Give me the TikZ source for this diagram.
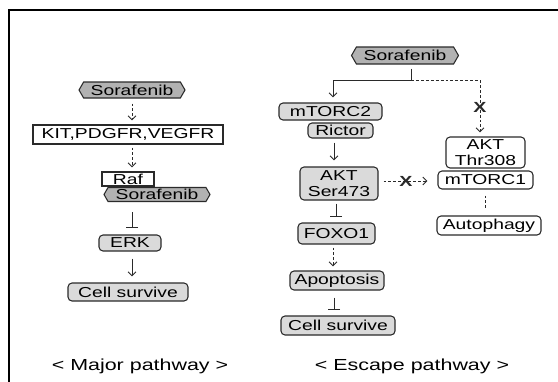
\documentclass[tikz,border=0pt]{standalone}
\usepackage{fontspec}
\setmainfont{Liberation Sans}[FakeStretch=1.34]
\usetikzlibrary{arrows.meta,shapes.symbols}
\newdimen\px \px=0.75pt
\definecolor{drug}{HTML}{B2B2B2}
\definecolor{prot}{HTML}{DADADA}
\definecolor{edge}{HTML}{2A2A2A}
\tikzset{
 base/.style={draw=edge, line width=0.8pt, inner sep=0pt, font=\fontsize{10.8pt}{11.8pt}\selectfont, align=center, text=black},
 drugbox/.style={base, signal, signal to=west and east, signal pointer angle=120, fill=drug},
 plainbox/.style={base, fill=white, rectangle},
 protbox/.style={base, fill=prot, rectangle, rounded corners=3pt},
 whitebox/.style={base, fill=white, rectangle, rounded corners=3pt},
 sz/.style 2 args={minimum width=#1\px, minimum height=#2\px},
 conn/.style={draw=edge, line width=0.7pt},
 act/.style={conn, -{Straight Barb[length=3pt,width=6pt]}},
 dsh/.style={dash pattern=on 2.2pt off 1.5pt},
 inh/.style={conn, -{Bar[width=9pt]}},
 xmark/.style={font=\bfseries\fontsize{11pt}{11pt}\selectfont, inner sep=0pt, text=edge},
 lab/.style={font=\fontsize{12pt}{14pt}\selectfont, inner sep=0pt}
}
\begin{document}
\begin{tikzpicture}[x=0.75pt, y=-0.75pt]
\useasboundingbox (0,0) rectangle (558,382);
\draw[line width=1.5pt] (9,382) -- (9,10) -- (558,10);

% Major pathway
\node[drugbox, sz={106}{16}] (s1) at (132,90) {Sorafenib};
\node[plainbox, sz={190}{19}] (kit) at (128,134.5) {KIT,PDGFR,VEGFR};
\node[plainbox, sz={52}{14}] (raf) at (128,179) {Raf};
\node[drugbox, sz={106}{14}] (s2) at (157,194.5) {Sorafenib};
\node[protbox, sz={62}{16}] (erk) at (130,243) {ERK};
\node[protbox, sz={120}{18}] (c1) at (128,292) {Cell survive};
\node[lab] (major) at (140,366) {< Major pathway >};

\draw[act, dsh, shorten <=5\px, shorten >=4\px] (s1.south) -- (s1.south |- kit.north);
\draw[act, dsh, shorten <=3\px, shorten >=4\px] (kit.south -| s1.south) -- (s1.south |- raf.north);
\draw[inh, shorten <=10\px, shorten >=7\px] (s2.south -| s1.south) -- (s1.south |- erk.north);
\draw[act, shorten <=7\px, shorten >=6\px] (erk.south -| s1.south) -- (s1.south |- c1.north);

% Escape pathway
\node[drugbox, sz={107}{17}] (s3) at (405,55.5) {Sorafenib};
\node[protbox, sz={103}{17}] (m2) at (330.5,111.5) {mTORC2};
\node[protbox, sz={65}{15}] (ric) at (340.5,130.5) {Rictor};
\node[protbox, sz={78}{33}] (a473) at (339,183.5) {AKT\\Ser473};
\node[whitebox, sz={79}{31}] (t308) at (485.5,152.5) {AKT\\Thr308};
\node[whitebox, sz={95}{18}] (m1) at (485.5,180) {mTORC1};
\node[whitebox, sz={104}{19}] (auto) at (489,225.5) {Autophagy};
\node[protbox, sz={77}{21}] (foxo) at (336.5,233.5) {FOXO1};
\node[protbox, sz={94}{19}] (apo) at (337,280.5) {Apoptosis};
\node[protbox, sz={114}{19}] (c2) at (338,325.5) {Cell survive};
\node[lab] (escape) at (412,366) {< Escape pathway >};

\coordinate (j) at (411,80);
\draw[conn, shorten <=4\px] (j |- s3.south) -- (j);
\draw[act, shorten >=5\px] (j) -| ([xshift=2.5\px]m2.north);
\draw[act, dsh, shorten >=4\px] (j) -| ([xshift=-5.5\px]t308.north);
\node[xmark] (x1) at (480,107) {X};
\draw[act, shorten <=4\px, shorten >=6\px] ([xshift=-6.5\px]ric.south) -- ([xshift=-6.5\px]ric.south |- a473.north);
\draw[act, dsh, shorten <=5\px, shorten >=10\px] ([yshift=2.5\px]a473.east) -- ([yshift=2.5\px]a473.east -| m1.west);
\node[xmark] (x2) at (406,181) {X};
\draw[conn, dsh, shorten <=6\px, shorten >=6\px] (m1.south) -- (m1.south |- auto.north);
\draw[inh, shorten <=3\px, shorten >=6\px] ([xshift=-3\px]a473.south) -- ([xshift=-3\px]a473.south |- foxo.north);
\draw[act, dsh, shorten <=3\px, shorten >=4\px] ([xshift=-3.5\px]foxo.south) -- ([xshift=-3.5\px]foxo.south |- apo.north);
\draw[inh, shorten <=7\px, shorten >=6\px] ([xshift=-3\px]apo.south) -- ([xshift=-3\px]apo.south |- c2.north);
\end{tikzpicture}
\end{document}
